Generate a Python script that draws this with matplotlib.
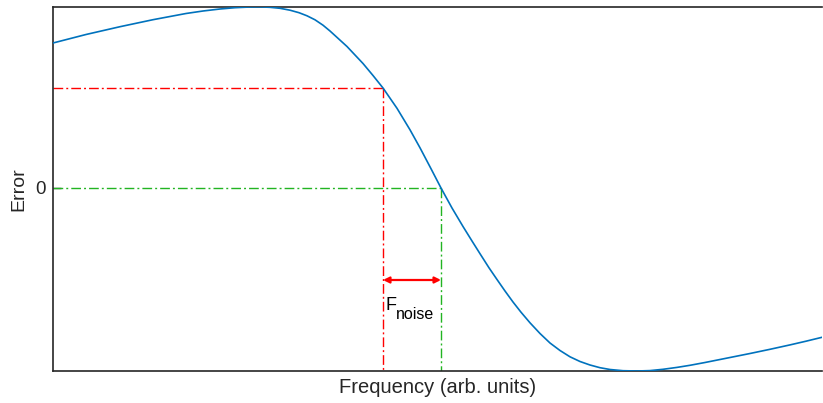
import matplotlib
matplotlib.use("Agg")
import matplotlib.pyplot as plt

plt.rcParams['font.family'] = ['Liberation Sans', 'DejaVu Sans']

# Data (arbitrary units)
frequency = [0, 33, 67, 100, 133, 150, 167, 182, 197, 207, 217, 227, 237, 246,
             254, 262, 270, 277, 294, 310, 320, 330, 344, 357, 367, 378, 388,
             399, 410, 419, 427, 436, 444, 452, 460, 468, 477, 487, 497, 507,
             517, 527, 537, 547, 557, 570, 584, 597, 610, 624, 637, 652, 667,
             682, 697, 717, 737, 753, 769]
error = [145, 153.5, 161.3, 168.3, 174.5, 177, 179, 180.3, 181, 181.1, 180.7,
         179.7, 177.8, 175.3, 172.2, 168.2, 162.8, 157, 141.5, 124.5, 112.5,
         100, 79.7, 58.2, 40.2, 19.3, 0, -20, -38.5, -53, -65.7, -79.8, -91.5,
         -103, -114, -124.2, -134.8, -145.5, -155, -162.5, -168.8, -173.5,
         -177, -179.7, -181.5, -182.7, -183, -182.6, -181.3, -179.4, -177.3,
         -174.5, -171.5, -168.5, -165.5, -161.3, -156.9, -153.2, -149.3]

red_freq, red_level = 330, 100      # operating point
green_freq, green_level = 388, 0    # zero-crossing
arrow_level = -92
yticks = [0]
ytick_labels = ['0']

blue = '#0072BD'
red = '#FF0000'
green = '#22B422'
dark = '#262626'

fig = plt.figure(figsize=(8.23, 4.03), dpi=100)
ax = fig.add_axes([53/823, 32/403, 769/823, 364/403])

ax.plot(frequency, error, color=blue, lw=1.2, zorder=3)

dash = (7, 2.2, 1.4, 2.2)
ax.plot([0, red_freq], [red_level, red_level], color=red, lw=1.0, dashes=dash)
ax.plot([red_freq, red_freq], [red_level, -183], color=red, lw=1.0, dashes=dash)
ax.plot([0, green_freq], [green_level, green_level], color=green, lw=1.0, dashes=dash)
ax.plot([green_freq, green_freq], [green_level, -183], color=green, lw=1.0, dashes=dash)

ax.annotate('', xy=(green_freq, arrow_level), xytext=(red_freq, arrow_level),
            arrowprops=dict(arrowstyle='<|-|>', color=red, lw=1.6,
                            mutation_scale=9, shrinkA=0, shrinkB=0))
ax.text(red_freq + 3, -122, 'F', fontsize=13, color='black', va='baseline', ha='left')
ax.text(red_freq + 13, -131, 'noise', fontsize=11.5, color='black', va='baseline', ha='left')

ax.set_xlim(0, 769)
ax.set_ylim(-183, 181)
ax.set_xticks([])
ax.set_yticks(yticks)
ax.set_yticklabels(ytick_labels)
ax.tick_params(axis='y', direction='in', length=6, width=1, color=dark,
               labelsize=13.5, labelcolor=dark, pad=5)

for s in ['top', 'left', 'bottom']:
    ax.spines[s].set_color(dark)
    ax.spines[s].set_linewidth(1.2)
ax.spines['right'].set_visible(False)

ax.set_xlabel('Frequency (arb. units)', fontsize=14.5, color=dark, labelpad=5)
ax.set_ylabel('Error', fontsize=14, color=dark, labelpad=6)

fig.savefig('out.png', dpi=100)
